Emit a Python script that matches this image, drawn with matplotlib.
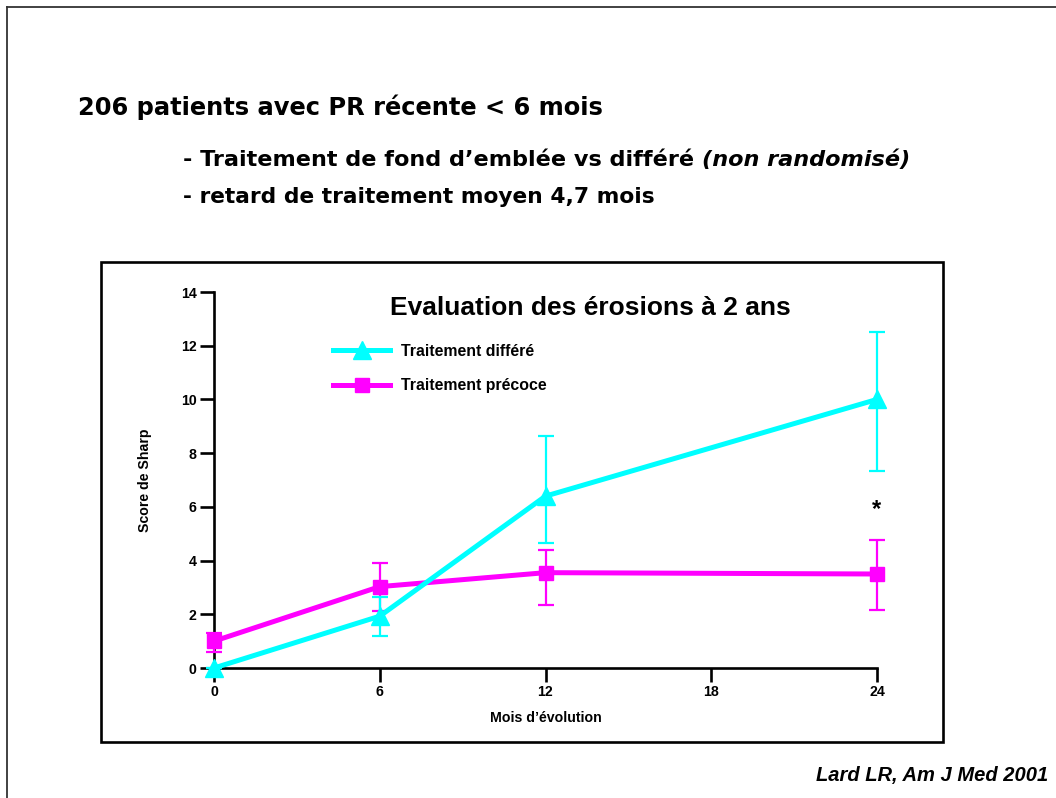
import matplotlib
matplotlib.use("Agg")
import matplotlib.pyplot as plt
from matplotlib.lines import Line2D
from matplotlib.patches import Rectangle
from matplotlib import font_manager

# ---------------- data ----------------
months = [0, 6, 12, 24]
differe_mean = [0.0, 1.93, 6.40, 10.0]
differe_low = [0.0, 1.20, 4.65, 7.33]
differe_high = [0.0, 2.65, 8.64, 12.52]
precoce_mean = [1.0, 3.03, 3.55, 3.50]
precoce_low = [0.60, 2.13, 2.35, 2.17]
precoce_high = [1.30, 3.92, 4.39, 4.77]
x_ticks = [0, 6, 12, 18, 24]
y_ticks = [0, 2, 4, 6, 8, 10, 12, 14]
label_differe = "Traitement différé"
label_precoce = "Traitement précoce"
star_pos = (24, 5.9)

CYAN = "#00FFFF"
MAGENTA = "#FF00FF"

names = {f.name for f in font_manager.fontManager.ttflist}
if "Liberation Sans Narrow" in names:
    NARROW = "Liberation Sans Narrow"
    nscale = 1.0
else:
    NARROW = "Liberation Sans"
    nscale = 0.85

W, H = 1056, 798
fig = plt.figure(figsize=(W / 100, H / 100), dpi=100)
fig.patch.set_facecolor("white")

def fx(px):
    return px / W

def fy(py):
    return 1 - py / H

# slide border
fig.add_artist(Line2D([fx(7), 1.0], [fy(7), fy(7)], color="#333333", lw=1.3))
fig.add_artist(Line2D([fx(7), fx(7)], [fy(7), 0.0], color="#333333", lw=1.3))

# chart frame
fig.add_artist(Rectangle((fx(101), fy(742)), fx(943) - fx(101), fy(262) - fy(742),
                         fill=False, edgecolor="black", lw=1.9))

# slide text
fig.text(fx(78), fy(107), "206 patients avec PR récente < 6 mois",
         fontsize=17.4, fontweight="bold", family="DejaVu Sans", va="center", ha="left")
t1 = fig.text(fx(183), fy(160), "- Traitement de fond d\u2019emblée vs différé ",
              fontsize=16.1, fontweight="bold", family="DejaVu Sans", va="center", ha="left")
fig.canvas.draw()
bb = t1.get_window_extent()
fig.text(bb.x1 / W, fy(160), "(non randomisé)", fontsize=16.1, fontweight="bold",
         style="italic", family="DejaVu Sans", va="center", ha="left")
fig.text(fx(183), fy(197), "- retard de traitement moyen 4,7 mois",
         fontsize=15.7, fontweight="bold", family="DejaVu Sans", va="center", ha="left")

fig.text(fx(1048), fy(775), "Lard LR, Am J Med 2001", fontsize=14.5, fontweight="bold",
         style="italic", family="Liberation Sans", va="center", ha="right")

# axes
ax = fig.add_axes([fx(214), fy(668), fx(877) - fx(214), fy(292) - fy(668)])
ax.set_xlim(0, 24)
ax.set_ylim(0, 14)
ax.patch.set_alpha(0)
for s in ["top", "right"]:
    ax.spines[s].set_visible(False)
for s in ["left", "bottom"]:
    ax.spines[s].set_linewidth(1.9)
ax.set_xticks(x_ticks)
ax.set_yticks(y_ticks)
ax.tick_params(direction="out", length=10, width=1.9, pad=2.5)
for lab in ax.get_xticklabels() + ax.get_yticklabels():
    lab.set_fontfamily(NARROW)
    lab.set_fontweight("bold")
    lab.set_fontsize(12 * nscale)

ax.set_xlabel("Mois d\u2019évolution", fontfamily=NARROW, fontweight="bold", fontsize=12 * nscale)
ax.set_ylabel("Score de Sharp", fontfamily=NARROW, fontweight="bold", fontsize=12 * nscale)
ax.xaxis.set_label_coords(0.5, -0.114)
ax.yaxis.set_label_coords(-0.093, 0.5)

# precoce first (below)
p_err = [[m - l for m, l in zip(precoce_mean, precoce_low)],
         [h - m for m, h in zip(precoce_mean, precoce_high)]]
eb_p = ax.errorbar(months, precoce_mean, yerr=p_err, color=MAGENTA, lw=3.6,
                   marker="s", markersize=10, elinewidth=1.6, capsize=5.5, capthick=1.6,
                   clip_on=False, zorder=3)
d_err = [[m - l for m, l in zip(differe_mean, differe_low)],
         [h - m for m, h in zip(differe_mean, differe_high)]]
eb_d = ax.errorbar(months, differe_mean, yerr=d_err, color=CYAN, lw=3.6,
                   marker="^", markersize=13, elinewidth=1.6, capsize=5.5, capthick=1.6,
                   clip_on=False, zorder=4)
for eb in (eb_p, eb_d):
    for art in eb.lines[1] + eb.lines[2]:
        art.set_clip_on(False)

ax.text(star_pos[0], star_pos[1], "*", fontsize=17, fontweight="bold",
        family="Liberation Sans", ha="center", va="center")

ax.text((590 - 214) / 663, (668 - 308) / 376, "Evaluation des érosions à 2 ans",
        transform=ax.transAxes, fontsize=19, fontweight="bold", family="Liberation Sans",
        ha="center", va="center")

leg = ax.legend([eb_d.lines[0], eb_p.lines[0]], [label_differe, label_precoce],
                loc="upper left", bbox_to_anchor=(fx(333), fy(344)),
                bbox_transform=fig.transFigure, frameon=False, borderpad=0,
                borderaxespad=0, handlelength=3.6, handletextpad=0.65,
                labelspacing=1.22,
                prop={"family": NARROW, "weight": "bold", "size": 13.5 * nscale})

fig.savefig("out.png", dpi=100, facecolor="white")
